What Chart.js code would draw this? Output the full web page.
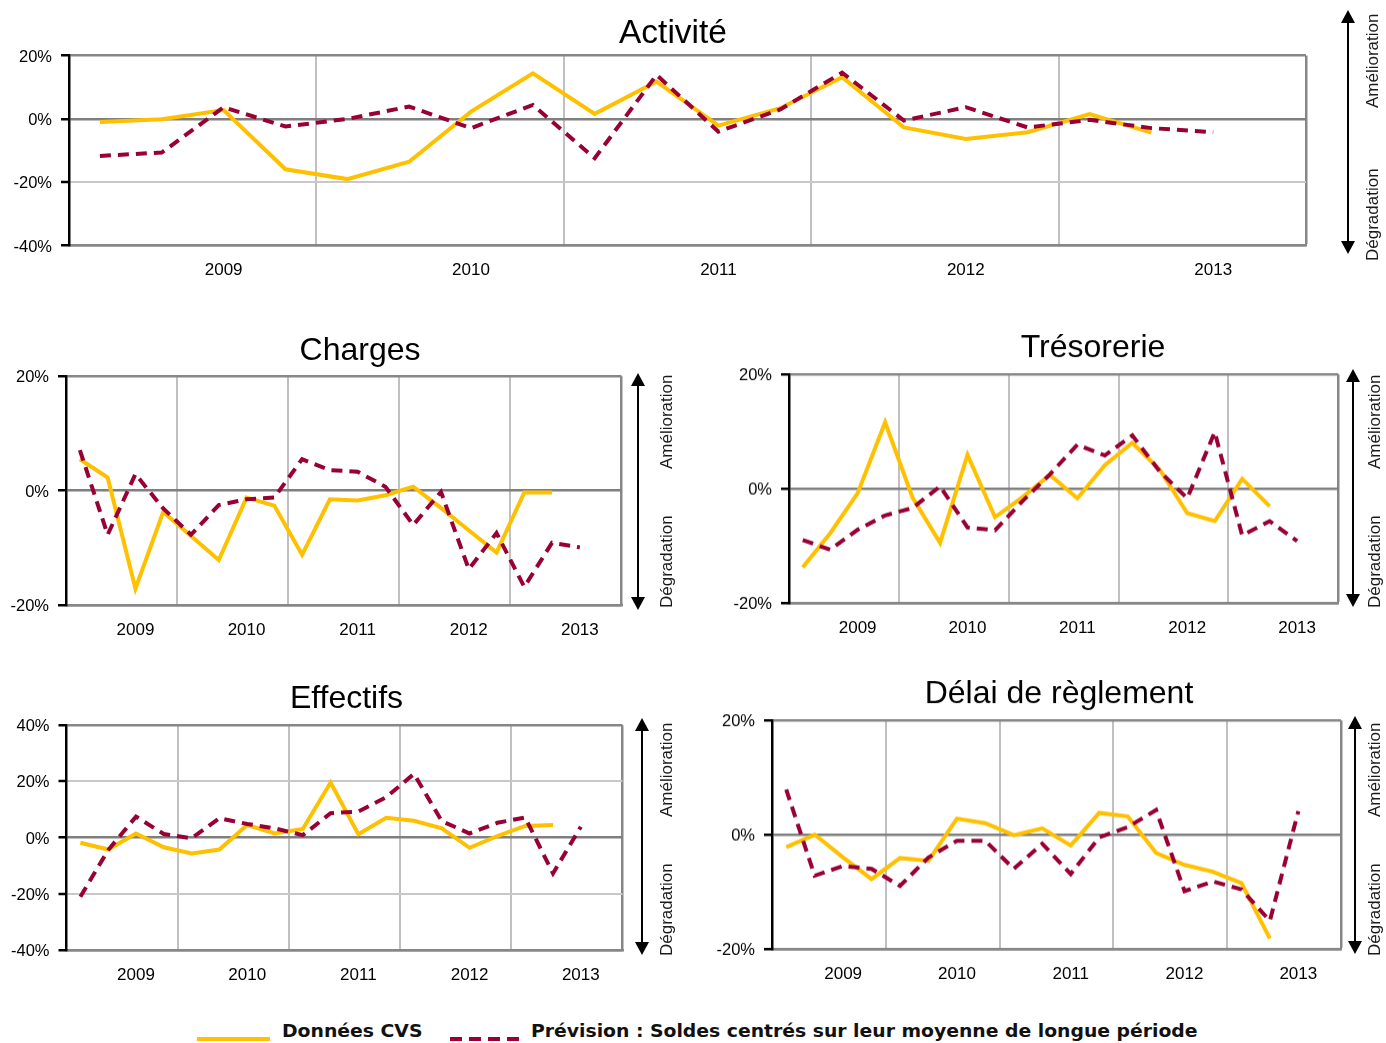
<!DOCTYPE html>
<html>
<head>
<meta charset="utf-8">
<script src="https://cdn.jsdelivr.net/npm/chart.js@4.4.0/dist/chart.umd.min.js"></script>
<style>
html, body { margin:0; padding:0; background:#fff; width:1386px; height:1043px; overflow:hidden; position:relative; }
.box { position:absolute; }
.arrow { position:absolute; width:2px; background:#000; }
.arrow:before, .arrow:after { content:''; position:absolute; left:-6px; border-left:7px solid transparent; border-right:7px solid transparent; }
.arrow:before { top:-2px; border-bottom:13px solid #000; }
.arrow:after { bottom:-2px; border-top:13px solid #000; }
.side { position:absolute; writing-mode:vertical-rl; transform:rotate(180deg); font:17px "Liberation Sans", Arial, sans-serif; color:#1a1a1a; line-height:20px; width:20px; text-align:center; white-space:nowrap; }
.leg { position:absolute; top:1020px; font:bold 18px "DejaVu Sans", Verdana, sans-serif; color:#111; line-height:22px; white-space:nowrap; transform-origin:left center; }
</style>
</head>
<body>

<div class="box" style="left:0px;top:13.9px;width:1346px;height:271.6px"><canvas id="activite"></canvas></div>
<div class="box" style="left:0px;top:331.8px;width:720px;height:313.2px"><canvas id="charges"></canvas></div>
<div class="box" style="left:730px;top:328.8px;width:726px;height:312.9px"><canvas id="tresorerie"></canvas></div>
<div class="box" style="left:0px;top:679.8px;width:693px;height:310.2px"><canvas id="effectifs"></canvas></div>
<div class="box" style="left:712px;top:674.8px;width:694px;height:312.9px"><canvas id="delai"></canvas></div>

<!-- fleches amelioration / degradation -->
<div class="arrow" style="left:1347px;top:12px;height:240px"></div>
<div class="side" style="left:1363px;top:12px;height:98px">Amélioration</div>
<div class="side" style="left:1363px;top:166px;height:97px">Dégradation</div>

<div class="arrow" style="left:637px;top:375px;height:233px"></div>
<div class="side" style="left:657px;top:373px;height:98px">Amélioration</div>
<div class="side" style="left:657px;top:514px;height:95px">Dégradation</div>

<div class="arrow" style="left:1352px;top:371px;height:234px"></div>
<div class="side" style="left:1365px;top:373px;height:98px">Amélioration</div>
<div class="side" style="left:1365px;top:514px;height:95px">Dégradation</div>

<div class="arrow" style="left:641px;top:720px;height:233px"></div>
<div class="side" style="left:657px;top:721px;height:97px">Amélioration</div>
<div class="side" style="left:657px;top:862px;height:95px">Dégradation</div>

<div class="arrow" style="left:1354px;top:718px;height:234px"></div>
<div class="side" style="left:1365px;top:721px;height:97px">Amélioration</div>
<div class="side" style="left:1365px;top:862px;height:95px">Dégradation</div>

<!-- legende -->
<div style="position:absolute;left:197px;top:1037px;width:73px;height:4px;background:#FFC000"></div>
<div class="leg" id="leg1" style="left:282px">Données CVS</div>
<div style="position:absolute;left:450px;top:1037px;width:69px;height:4px;background:repeating-linear-gradient(to right,#990033 0 12px,transparent 12px 19px)"></div>
<div class="leg" id="leg2" style="left:531px">Prévision : Soldes centrés sur leur moyenne de longue période</div>

<script>
// trimestres 2009 - 2013
var quarters = ['T1 2009','T2 2009','T3 2009','T4 2009',
                'T1 2010','T2 2010','T3 2010','T4 2010',
                'T1 2011','T2 2011','T3 2011','T4 2011',
                'T1 2012','T2 2012','T3 2012','T4 2012',
                'T1 2013','T2 2013','T3 2013','T4 2013'];
var yearLabels = ['2009','2010','2011','2012','2013'];

// Activite
var activiteCVS  = [-1.0, -0.1, 2.8, -15.9, -19.0, -13.5, 2.3, 14.4, 1.6, 11.8, -2.1, 3.4, 13.2, -2.7, -6.3, -4.2, 1.5, -4.3];
var activitePrev = [-11.7, -10.6, 3.7, -2.4, 0.0, 3.9, -2.9, 4.4, -12.4, 13.9, -4.0, 3.0, 14.6, -0.5, 3.7, -2.7, -0.3, -2.9, -4.2];

// Charges
var chargesCVS  = [5.5, 2.3, -17.1, -3.7, -7.9, -12.1, -1.2, -2.6, -11.2, -1.5, -1.7, -0.8, 0.7, -3.0, -6.9, -10.8, -0.3, -0.3];
var chargesPrev = [7.1, -7.7, 2.9, -3.1, -7.7, -2.5, -1.5, -1.2, 5.5, 3.6, 3.3, 0.7, -6.0, -0.2, -13.7, -7.4, -16.8, -9.1, -9.9];

// Tresorerie
var tresoCVS  = [-13.8, -7.8, -0.8, 11.6, -1.6, -9.5, 5.9, -5.0, -1.5, 2.4, -1.7, 4.1, 8.0, 3.3, -4.3, -5.7, 1.7, -3.1];
var tresoPrev = [-9.0, -10.7, -7.2, -4.7, -3.4, 0.4, -6.8, -7.3, -2.2, 2.5, 7.7, 5.8, 9.3, 3.0, -1.7, 9.9, -8.2, -5.7, -9.2];

// Effectifs
var effectifsCVS  = [-1.8, -4.2, 1.5, -3.4, -5.6, -4.2, 4.5, 1.5, 3.1, 19.6, 1.2, 7.1, 6.0, 3.3, -3.6, 0.6, 4.2, 4.5];
var effectifsPrev = [-21.0, -4.4, 7.5, 1.3, -0.2, 6.9, 4.9, 3.3, 0.9, 8.7, 9.3, 14.4, 22.7, 5.9, 1.5, 5.3, 7.2, -12.7, 3.9];

// Delai de reglement
var delaiCVS  = [-2.2, 0.0, -4.0, -7.8, -4.1, -4.6, 2.8, 2.0, -0.1, 1.1, -1.9, 3.8, 3.2, -3.2, -5.3, -6.5, -8.5, -18.2];
var delaiPrev = [7.9, -7.2, -5.5, -6.0, -9.0, -4.0, -1.1, -1.1, -6.0, -1.6, -6.9, -0.5, 1.3, 4.3, -9.9, -8.2, -9.6, -15.1, 4.1];

var FONT = '"Liberation Sans", Arial, sans-serif';

function makeChart(id, title, titleSize, cvs, prev, yMin, yMax, axisW, rightW, titleGap) {
    var ctx = document.getElementById(id).getContext('2d');
    return new Chart(ctx, {
        type: 'line',
        data: {
            labels: quarters,
            datasets: [{
                data: cvs,
                borderColor: '#FFC000',
                borderWidth: 4,
                pointRadius: 0,
                tension: 0,
                order: 1
            }, {
                data: prev,
                borderColor: '#990033',
                borderWidth: 4,
                borderDash: [11, 7],
                pointRadius: 0,
                tension: 0,
                order: 0
            }]
        },
        options: {
            responsive: true,
            maintainAspectRatio: false,
            animation: false,
            layout: { padding: 0 },
            plugins: {
                legend: { display: false },
                tooltip: { enabled: false },
                title: {
                    display: true,
                    text: title,
                    color: '#000',
                    font: { family: FONT, size: titleSize, weight: 'normal', lineHeight: 1.2 },
                    padding: { top: 0, bottom: titleGap }
                }
            },
            scales: {
                x: {
                    type: 'category',
                    offset: true,
                    grid: {
                        offset: true,
                        drawTicks: false,
                        color: function(c) {
                            if (c.type !== 'tick') return '#878787';
                            return (c.index % 4 === 0 && c.index > 0) ? '#c0c0c0' : 'rgba(0,0,0,0)';
                        },
                        lineWidth: function(c) { return c.type !== 'tick' ? 2.5 : 2; }
                    },
                    border: { display: true, color: '#878787', width: 2.5 },
                    ticks: {
                        autoSkip: false,
                        maxRotation: 0,
                        padding: 15,
                        color: '#000',
                        font: { family: FONT, size: 17 },
                        callback: function(v, i) { return i % 4 === 2 ? yearLabels[(i - 2) / 4] : ''; }
                    },
                    afterFit: function(s) { s.height = 40; }
                },
                y: {
                    min: yMin,
                    max: yMax,
                    ticks: {
                        stepSize: 20,
                        padding: 9,
                        labelOffset: 1.5,
                        color: '#000',
                        font: { family: FONT, size: 16.5 },
                        callback: function(v) { return v + '%'; }
                    },
                    grid: {
                        drawTicks: true,
                        tickLength: 8,
                        tickColor: '#000',
                        tickWidth: 2.5,
                        color: function(c) {
                            var v = c.tick ? c.tick.value : null;
                            if (v === 0) return '#7f7f7f';
                            if (v === yMin || v === yMax) return '#878787';
                            return '#c8c8c8';
                        },
                        lineWidth: function(c) {
                            var v = c.tick ? c.tick.value : null;
                            return (v === 0 || v === yMin || v === yMax) ? 2.5 : 2;
                        }
                    },
                    border: { color: '#000', width: 2.5 },
                    afterFit: function(s) { s.width = axisW; }
                },
                // espace vide a droite (la fleche est dessinee a part)
                yRight: {
                    axis: 'y',
                    type: 'linear',
                    position: 'right',
                    display: true,
                    grid: { display: false },
                    border: { display: false },
                    ticks: { display: false },
                    afterFit: function(s) { s.width = rightW; }
                }
            }
        }
    });
}

makeChart('activite', 'Activité', 33.5, activiteCVS, activitePrev, -40, 20, 69, 40, 1.4);
makeChart('charges', 'Charges', 32, chargesCVS, chargesPrev, -20, 20, 66, 98.5, 5.8);
makeChart('tresorerie', 'Trésorerie', 32, tresoCVS, tresoPrev, -20, 20, 59, 117.7, 6.8);
makeChart('effectifs', 'Effectifs', 32, effectifsCVS, effectifsPrev, -40, 40, 66.5, 70.5, 6.8);
makeChart('delai', 'Délai de règlement', 32, delaiCVS, delaiPrev, -20, 20, 60, 65, 6.8);

// ajuste la largeur des textes de legende
function fitWidth(id, w) {
    var el = document.getElementById(id);
    el.style.transform = 'scaleX(' + (w / el.offsetWidth) + ')';
}
fitWidth('leg1', 140);
fitWidth('leg2', 667);
</script>
</body>
</html>
